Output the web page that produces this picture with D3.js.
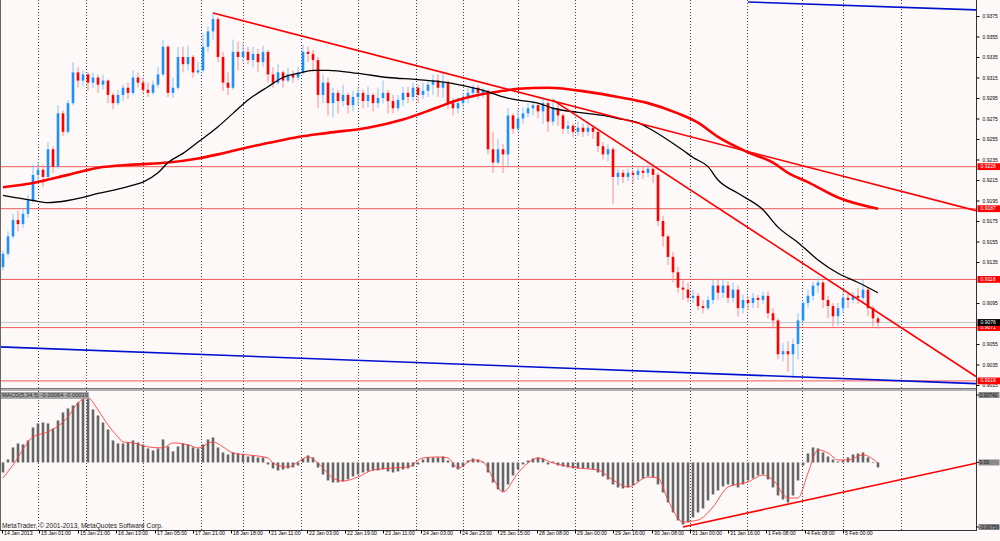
<!DOCTYPE html>
<html><head><meta charset="utf-8">
<script src="https://cdn.jsdelivr.net/npm/d3@7"></script>
<style>html,body{margin:0;padding:0;background:#fdf9f8;}svg{display:block;}</style>
</head><body><svg id="c" width="1000" height="541"></svg>
<script>
// ---------- DATA ----------
const opens = [
0.9130,0.9143,0.9160,0.9176,0.9172,0.9182,0.9195,0.9220,0.9225,0.9218,
0.9245,0.9228,0.9280,0.9262,0.9290,0.9320,0.9312,0.9318,0.9310,0.9315,
0.9308,0.9312,0.9298,0.9290,0.9298,0.9305,0.9300,0.9315,0.9310,0.9303,
0.9300,0.9308,0.9318,0.9345,0.9300,0.9305,0.9335,0.9328,0.9335,0.9320,
0.9322,0.9345,0.9360,0.9372,0.9335,0.9310,0.9305,0.9340,0.9335,0.9340,
0.9332,0.9338,0.9330,0.9340,0.9318,0.9310,0.9320,0.9312,0.9318,0.9315,
0.9320,0.9340,0.9338,0.9332,0.9298,0.9310,0.9290,0.9300,0.9292,0.9298,
0.9288,0.9296,0.9300,0.9292,0.9298,0.9290,0.9295,0.9300,0.9292,0.9285,
0.9293,0.9300,0.9296,0.9305,0.9298,0.9302,0.9308,0.9312,0.9305,0.9310,
0.9290,0.9285,0.9290,0.9296,0.9300,0.9305,0.9300,0.9302,0.9245,0.9232,
0.9245,0.9240,0.9278,0.9265,0.9275,0.9280,0.9285,0.9288,0.9282,0.9290,
0.9272,0.9285,0.9278,0.9265,0.9268,0.9262,0.9266,0.9262,0.9266,0.9262,
0.9248,0.9240,0.9245,0.9218,0.9222,0.9218,0.9222,0.9220,0.9224,0.9222,
0.9226,0.9220,0.9175,0.9160,0.9140,0.9125,0.9110,0.9108,0.9100,0.9102,
0.9092,0.9090,0.9098,0.9112,0.9105,0.9112,0.9100,0.9108,0.9090,0.9098,
0.9095,0.9100,0.9098,0.9102,0.9085,0.9078,0.9045,0.9048,0.9045,0.9055,
0.9078,0.9095,0.9102,0.9112,0.9115,0.9098,0.9092,0.9082,0.9090,0.9100,
0.9098,0.9102,0.9100,0.9108,0.9090,0.9080];
const highs = [
0.9146,0.9165,0.9182,0.9185,0.9187,0.9200,0.9230,0.9232,0.9230,0.9252,
0.9248,0.9288,0.9283,0.9293,0.9330,0.9325,0.9322,0.9320,0.9320,0.9318,
0.9318,0.9313,0.9300,0.9303,0.9308,0.9310,0.9322,0.9320,0.9315,0.9310,
0.9312,0.9325,0.9352,0.9347,0.9315,0.9345,0.9345,0.9346,0.9337,0.9330,
0.9358,0.9365,0.9378,0.9374,0.9340,0.9320,0.9352,0.9350,0.9348,0.9345,
0.9345,0.9343,0.9346,0.9342,0.9325,0.9328,0.9322,0.9325,0.9322,0.9325,
0.9347,0.9345,0.9342,0.9335,0.9318,0.9315,0.9305,0.9303,0.9308,0.9300,
0.9302,0.9305,0.9303,0.9306,0.9300,0.9305,0.9312,0.9303,0.9298,0.9298,
0.9306,0.9306,0.9310,0.9308,0.9310,0.9312,0.9318,0.9318,0.9320,0.9312,
0.9295,0.9296,0.9300,0.9305,0.9308,0.9308,0.9305,0.9303,0.9262,0.9255,
0.9250,0.9285,0.9280,0.9285,0.9286,0.9290,0.9292,0.9290,0.9296,0.9292,
0.9295,0.9290,0.9280,0.9273,0.9270,0.9272,0.9270,0.9272,0.9268,0.9265,
0.9252,0.9250,0.9247,0.9226,0.9225,0.9226,0.9225,0.9228,0.9228,0.9230,
0.9228,0.9222,0.9180,0.9162,0.9145,0.9130,0.9118,0.9115,0.9108,0.9105,
0.9098,0.9102,0.9118,0.9118,0.9118,0.9116,0.9115,0.9112,0.9103,0.9102,
0.9105,0.9103,0.9106,0.9106,0.9090,0.9080,0.9056,0.9058,0.9060,0.9085,
0.9098,0.9108,0.9116,0.9120,0.9117,0.9102,0.9095,0.9095,0.9105,0.9104,
0.9106,0.9110,0.9118,0.9110,0.9092,0.9082];
const lows = [
0.9127,0.9140,0.9158,0.9165,0.9168,0.9178,0.9193,0.9212,0.9208,0.9215,
0.9222,0.9226,0.9258,0.9260,0.9288,0.9305,0.9306,0.9302,0.9305,0.9300,
0.9303,0.9290,0.9284,0.9288,0.9292,0.9294,0.9298,0.9305,0.9300,0.9296,
0.9298,0.9305,0.9316,0.9296,0.9295,0.9303,0.9320,0.9322,0.9315,0.9318,
0.9320,0.9340,0.9352,0.9330,0.9302,0.9298,0.9303,0.9322,0.9330,0.9328,
0.9325,0.9320,0.9325,0.9310,0.9305,0.9308,0.9305,0.9310,0.9310,0.9312,
0.9318,0.9330,0.9320,0.9285,0.9290,0.9278,0.9276,0.9280,0.9287,0.9280,
0.9282,0.9288,0.9285,0.9286,0.9282,0.9285,0.9290,0.9280,0.9280,0.9282,
0.9287,0.9290,0.9292,0.9290,0.9294,0.9296,0.9298,0.9296,0.9295,0.9284,
0.9278,0.9280,0.9286,0.9290,0.9295,0.9294,0.9295,0.9240,0.9222,0.9230,
0.9222,0.9228,0.9260,0.9262,0.9270,0.9276,0.9278,0.9275,0.9270,0.9262,
0.9268,0.9268,0.9260,0.9260,0.9257,0.9258,0.9257,0.9258,0.9255,0.9242,
0.9235,0.9233,0.9192,0.9210,0.9212,0.9214,0.9212,0.9215,0.9216,0.9218,
0.9212,0.9170,0.9150,0.9132,0.9115,0.9105,0.9098,0.9096,0.9095,0.9088,
0.9085,0.9088,0.9094,0.9098,0.9100,0.9095,0.9096,0.9082,0.9085,0.9088,
0.9090,0.9090,0.9094,0.9080,0.9070,0.9040,0.9038,0.9028,0.9022,0.9040,
0.9075,0.9090,0.9098,0.9105,0.9090,0.9080,0.9072,0.9073,0.9085,0.9090,
0.9095,0.9094,0.9095,0.9082,0.9072,0.9070];
const closes = [
0.9143,0.9160,0.9176,0.9172,0.9182,0.9195,0.9220,0.9225,0.9218,0.9245,
0.9228,0.9280,0.9262,0.9290,0.9320,0.9312,0.9318,0.9310,0.9315,0.9308,
0.9312,0.9298,0.9290,0.9298,0.9305,0.9300,0.9315,0.9310,0.9303,0.9300,
0.9308,0.9318,0.9345,0.9300,0.9305,0.9335,0.9328,0.9335,0.9320,0.9322,
0.9345,0.9360,0.9372,0.9335,0.9310,0.9305,0.9340,0.9335,0.9340,0.9332,
0.9338,0.9330,0.9340,0.9318,0.9310,0.9320,0.9312,0.9318,0.9315,0.9320,
0.9340,0.9338,0.9332,0.9298,0.9310,0.9290,0.9300,0.9292,0.9298,0.9288,
0.9296,0.9300,0.9292,0.9298,0.9290,0.9295,0.9300,0.9292,0.9285,0.9293,
0.9300,0.9296,0.9305,0.9298,0.9302,0.9308,0.9312,0.9305,0.9310,0.9290,
0.9285,0.9290,0.9296,0.9300,0.9305,0.9300,0.9302,0.9245,0.9232,0.9245,
0.9240,0.9278,0.9265,0.9275,0.9280,0.9285,0.9288,0.9282,0.9290,0.9272,
0.9285,0.9278,0.9265,0.9268,0.9262,0.9266,0.9262,0.9266,0.9262,0.9248,
0.9240,0.9245,0.9218,0.9222,0.9218,0.9222,0.9220,0.9224,0.9222,0.9226,
0.9220,0.9175,0.9160,0.9140,0.9125,0.9110,0.9108,0.9100,0.9102,0.9092,
0.9090,0.9098,0.9112,0.9105,0.9112,0.9100,0.9108,0.9090,0.9098,0.9095,
0.9100,0.9098,0.9102,0.9085,0.9078,0.9045,0.9048,0.9045,0.9055,0.9078,
0.9095,0.9102,0.9112,0.9115,0.9098,0.9092,0.9082,0.9090,0.9100,0.9098,
0.9102,0.9100,0.9108,0.9090,0.9080,0.9076];

// moving averages (bar index, price)
const maBlackIdx = [0,6,9,13,16,19,23,26,28,31,33,36,39,43,46,49,53,56,59,62,65,71,77,83,89,93,97,100,103,107,110,115,120,123,127,129,136,138,141,143,147,152,155,159,163,167,171,175];
const maBlackVal = [0.9200,0.9195,0.9193,0.9195,0.9198,0.9202,0.9206,0.9210,0.9213,0.9222,0.9232,0.9241,0.9252,0.9267,0.9280,0.9293,0.9306,0.9315,0.9319,0.9322,0.9322,0.9319,0.9315,0.9313,0.9310,0.9306,0.9301,0.9296,0.9293,0.9290,0.9285,0.9281,0.9278,0.9275,0.9271,0.9266,0.9244,0.9237,0.9228,0.9215,0.9202,0.9186,0.9169,0.9154,0.9137,0.9124,0.9115,0.9105];
const maRedIdx = [0,6,13,19,26,33,39,43,49,53,59,65,73,80,87,91,95,100,103,109,117,123,129,135,139,143,149,154,157,161,167,175];
const maRedVal = [0.9208,0.9212,0.9220,0.9227,0.9230,0.9232,0.9236,0.9240,0.9247,0.9251,0.9257,0.9261,0.9266,0.9274,0.9286,0.9293,0.9298,0.9302,0.9304,0.9305,0.9301,0.9296,0.9290,0.9280,0.9271,0.9257,0.9242,0.9232,0.9222,0.9213,0.9198,0.9187];

// horizontal levels and bid
const levelPrices = [0.9228, 0.9187, 0.9118, 0.9071, 0.9019];
const bidPrice = 0.9076;
// trend lines: [index1, price1, index2, price2]
const redTrend1 = [42, 0.9378, 129, 0.9268];
const redTrend2 = [110, 0.9293, 163, 0.9124];
const blueTrendTop = [149, 0.93887, 175, 0.93843];
const blueTrendBottom = [0, 0.90521, 80, 0.90374];

// MACD(5,34,5)
const macdHist = [
-0.00110,0.00033,0.00165,0.00209,0.00198,0.00242,0.00385,0.00429,0.00440,0.00429,
0.00374,0.00462,0.00550,0.00594,0.00627,0.00660,0.00704,0.00726,0.00583,0.00517,
0.00440,0.00363,0.00242,0.00209,0.00209,0.00220,0.00242,0.00220,0.00198,0.00154,
0.00132,0.00154,0.00253,0.00176,0.00121,0.00176,0.00209,0.00198,0.00165,0.00154,
0.00198,0.00253,0.00275,0.00165,0.00110,0.00088,0.00110,0.00099,0.00088,0.00066,
0.00077,0.00055,0.00055,-0.00022,-0.00066,-0.00088,-0.00077,-0.00066,-0.00055,-0.00033,
0.00044,0.00077,0.00055,-0.00055,-0.00132,-0.00198,-0.00220,-0.00220,-0.00209,-0.00187,
-0.00154,-0.00132,-0.00110,-0.00099,-0.00088,-0.00088,-0.00077,-0.00099,-0.00110,-0.00099,
-0.00077,-0.00066,-0.00044,-0.00022,0.00033,0.00055,0.00055,0.00055,0.00066,0.00022,
-0.00055,-0.00077,-0.00044,0.00022,0.00044,0.00033,0.00005,-0.00110,-0.00220,-0.00297,
-0.00319,-0.00242,-0.00143,-0.00077,-0.00022,0.00022,0.00044,0.00055,0.00044,-0.00022,
0.00011,-0.00033,-0.00044,-0.00055,-0.00066,-0.00066,-0.00066,-0.00066,-0.00077,-0.00110,
-0.00154,-0.00187,-0.00242,-0.00275,-0.00286,-0.00275,-0.00253,-0.00209,-0.00176,-0.00154,
-0.00165,-0.00242,-0.00330,-0.00440,-0.00550,-0.00638,-0.00682,-0.00660,-0.00605,-0.00550,
-0.00506,-0.00418,-0.00352,-0.00308,-0.00264,-0.00242,-0.00253,-0.00275,-0.00242,-0.00198,
-0.00176,-0.00143,-0.00132,-0.00187,-0.00275,-0.00363,-0.00407,-0.00440,-0.00363,-0.00198,
-0.00033,0.00099,0.00165,0.00154,0.00110,0.00066,0.00033,0.00011,0.00022,0.00055,
0.00088,0.00099,0.00110,0.00055,-0.00005,-0.00055];
const signalIdx = [0,2,6,9,13,15,17,19,21,23,24,26,29,32,34,37,39,42,44,46,49,53,54,57,59,61,63,66,68,71,74,78,81,84,87,89,91,94,96,98,100,103,105,107,110,115,119,122,125,129,131,133,136,139,142,145,149,152,154,157,159,161,163,165,167,169,172,175];
const signalVal = [-0.00171,-0.00028,0.00281,0.00336,0.00501,0.00655,0.00710,0.00578,0.00413,0.00281,0.00226,0.00215,0.00171,0.00160,0.00215,0.00193,0.00160,0.00226,0.00171,0.00105,0.00083,0.00050,-0.00006,-0.00050,0.00006,0.00061,-0.00006,-0.00171,-0.00204,-0.00160,-0.00083,-0.00061,-0.00050,0.00050,0.00061,0.00050,-0.00061,0.00028,0.00006,-0.00171,-0.00325,-0.00116,-0.00006,0.00050,-0.00006,-0.00061,-0.00083,-0.00193,-0.00270,-0.00160,-0.00171,-0.00413,-0.00655,-0.00633,-0.00490,-0.00270,-0.00215,-0.00138,-0.00193,-0.00391,-0.00391,-0.00116,0.00138,0.00105,0.00028,0.00028,0.00083,-0.00006];
const macdTrend = [136, -0.00710, 175, -0.00243];
const macdAxisVals = [0.00742, 0, -0.00710];
const macdAxisLabels = ['0.00742', '0.00', '-0.00759'];
const macdName = 'MACD(5,34,5) -0.00064 -0.00019';

// axes (labels hidden under the price tags in the reference are left out)
const priceTicks = [0.9375,0.9355,0.9335,0.9315,0.9295,0.9275,0.9255,0.9235,0.9215,0.9195,0.9175,0.9155,0.9135,0.9095,0.9055,0.9035,0.9015];
const timeLabels = ['14 Jan 2013','15 Jan 01:00','15 Jan 21:00','16 Jan 13:00','17 Jan 05:00','17 Jan 21:00','18 Jan 18:00','21 Jan 11:00','22 Jan 03:00','22 Jan 19:00','23 Jan 11:00','24 Jan 03:00','24 Jan 23:00','25 Jan 15:00','28 Jan 08:00','29 Jan 00:00','29 Jan 16:00','30 Jan 08:00','31 Jan 00:00','31 Jan 16:00','1 Feb 08:00','4 Feb 08:00','5 Feb 00:00'];
const timeLabelIdx = [-0.2,7.2,15,22.6,30.4,38,45.6,53.2,60.8,68.4,76,83.6,91.4,99,106.8,114.4,122,129.8,137.4,145,152.6,160.4,168];
const gridIdx = [7,16.6,28,39.6,48,59.6,71,82.6,92,103,114.4,125.8,137.4,148.8,159.8,168,179.6];
const copyright = 'MetaTrader, \u00A9 2001-2013, MetaQuotes Software Corp.';

// ---------- DRAWING ----------
const svg = d3.select('#c');
const axisX = 976, mainBot = 389, subTop = 391, subBot = 530;
const FONT = '"Liberation Sans", Arial, sans-serif';
const x = d3.scaleLinear().domain([0, 175]).range([3, 878]);
const y = d3.scaleLinear().domain([0.9375, 0.9015]).range([16, 385]);
const yM = d3.scaleLinear().domain([0.00742, -0.00710]).range([395, 527]);

svg.append('rect').attr('width', 1000).attr('height', 541).attr('fill', '#fdf9f8');
const defs = svg.append('defs');
defs.append('clipPath').attr('id', 'cm').append('rect').attr('x', 0).attr('y', 0).attr('width', axisX).attr('height', mainBot);
defs.append('clipPath').attr('id', 'cs').append('rect').attr('x', 0).attr('y', subTop).attr('width', axisX).attr('height', subBot - subTop);

// grid
const grid = svg.append('g').attr('stroke', '#444').attr('stroke-dasharray', '1,2').attr('stroke-width', 1);
gridIdx.forEach(g => {
  const gx = Math.round(x(g)) + 0.5;
  grid.append('line').attr('x1', gx).attr('x2', gx).attr('y1', 0).attr('y2', mainBot);
  grid.append('line').attr('x1', gx).attr('x2', gx).attr('y1', subTop).attr('y2', subBot);
});

const main = svg.append('g').attr('clip-path', 'url(#cm)');

// horizontal levels
main.append('line').attr('x1', 0).attr('x2', axisX).attr('y1', y(bidPrice)).attr('y2', y(bidPrice)).attr('stroke', '#c8c8c8').attr('stroke-width', 1);
levelPrices.forEach(p => {
  main.append('line').attr('x1', 0).attr('x2', axisX).attr('y1', y(p)).attr('y2', y(p)).attr('stroke', '#f05a5a').attr('stroke-width', 1);
});

// candles
const idx = d3.range(closes.length);
main.append('g').selectAll('line').data(idx).join('line')
  .attr('x1', i => x(i)).attr('x2', i => x(i))
  .attr('y1', i => y(highs[i])).attr('y2', i => y(lows[i]))
  .attr('stroke', i => closes[i] >= opens[i] ? '#86c3ff' : '#ff8a8a').attr('stroke-width', 1);
main.append('g').selectAll('rect').data(idx).join('rect')
  .attr('x', i => x(i) - 1.3).attr('width', 2.6)
  .attr('y', i => y(Math.max(opens[i], closes[i])))
  .attr('height', i => Math.max(1, Math.abs(y(opens[i]) - y(closes[i]))))
  .attr('fill', i => closes[i] >= opens[i] ? '#1e90ff' : '#ff0000');

// moving averages
const lineGen = (ix, vals, sy) => d3.line().curve(d3.curveMonotoneX)(ix.map((d, k) => [x(d), sy(vals[k])]));
main.append('path').attr('d', lineGen(maRedIdx, maRedVal, y)).attr('fill', 'none').attr('stroke', '#ff0000').attr('stroke-width', 2.6);
main.append('path').attr('d', lineGen(maBlackIdx, maBlackVal, y)).attr('fill', 'none').attr('stroke', '#000').attr('stroke-width', 1.3);

// trend lines (rays to the right edge)
function ray(t, sy, extendLeft) {
  const xa = x(t[0]), ya = sy(t[1]), xb = x(t[2]), yb = sy(t[3]);
  const m = (yb - ya) / (xb - xa);
  const xs = extendLeft ? 0 : xa;
  return [xs, ya + m * (xs - xa), axisX, ya + m * (axisX - xa)];
}
function drawRay(g, t, sy, color, w, extendLeft) {
  const r = ray(t, sy, extendLeft);
  g.append('line').attr('x1', r[0]).attr('y1', r[1]).attr('x2', r[2]).attr('y2', r[3]).attr('stroke', color).attr('stroke-width', w);
}
drawRay(main, redTrend1, y, '#ff0000', 1.6, false);
drawRay(main, redTrend2, y, '#ff0000', 1.6, false);
drawRay(main, blueTrendTop, y, '#0010d0', 1.6, false);
drawRay(main, blueTrendBottom, y, '#0010d0', 1.6, true);

// MACD subwindow
const sub = svg.append('g').attr('clip-path', 'url(#cs)');
sub.append('g').selectAll('rect').data(idx).join('rect')
  .attr('x', i => x(i) - 1.3).attr('width', 2.6)
  .attr('y', i => Math.min(yM(0), yM(macdHist[i])))
  .attr('height', i => Math.max(0.6, Math.abs(yM(macdHist[i]) - yM(0))))
  .attr('fill', '#666');
sub.append('path').attr('d', lineGen(signalIdx, signalVal, yM)).attr('fill', 'none').attr('stroke', '#ff4040').attr('stroke-width', 0.9);
drawRay(sub, macdTrend, yM, '#ff0000', 1.6, false);

// frames
svg.append('rect').attr('x', 0).attr('y', 388.5).attr('width', axisX).attr('height', 2.5).attr('fill', '#b0b0b0');
svg.append('line').attr('x1', 0).attr('x2', axisX).attr('y1', 388.5).attr('y2', 388.5).attr('stroke', '#777');
svg.append('line').attr('x1', 0).attr('x2', axisX).attr('y1', subBot + 0.5).attr('y2', subBot + 0.5).attr('stroke', '#333');
svg.append('line').attr('x1', 0.5).attr('x2', 0.5).attr('y1', 0).attr('y2', subBot).attr('stroke', '#666');
svg.append('line').attr('x1', axisX + 0.5).attr('x2', axisX + 0.5).attr('y1', 0).attr('y2', subBot + 1).attr('stroke', '#333');

// MACD name + copyright
svg.append('rect').attr('x', 1).attr('y', 392).attr('width', 88).attr('height', 7).attr('fill', '#a8a8a8');
svg.append('text').attr('x', 2).attr('y', 395.7).attr('font-family', FONT).attr('font-size', 5.8)
  .attr('dominant-baseline', 'middle').attr('fill', '#2a2a2a').text(macdName);
svg.append('text').attr('x', 2).attr('y', 526).attr('font-family', FONT).attr('font-size', 6.6)
  .attr('dominant-baseline', 'middle').attr('fill', '#222').text(copyright);

// price axis
const pAxis = svg.append('g').attr('transform', `translate(${axisX + 0.5},0)`)
  .call(d3.axisRight(y).tickValues(priceTicks).tickSize(3).tickPadding(3).tickFormat(d3.format('.4f')));
pAxis.select('.domain').remove();
pAxis.selectAll('text').attr('font-family', FONT).attr('font-size', 5).attr('fill', '#000');
pAxis.selectAll('line').attr('stroke', '#000');

function tagBox(py, label, fill, color) {
  svg.append('rect').attr('x', axisX + 1.5).attr('y', py - 3.4).attr('width', 23).attr('height', 6.8).attr('fill', fill);
  svg.append('text').attr('x', axisX + 4.5).attr('y', py + 0.2).attr('font-family', FONT).attr('font-size', 5)
    .attr('dominant-baseline', 'middle').attr('fill', color).text(label);
}
levelPrices.forEach(p => tagBox(y(p), d3.format('.4f')(p), '#ff0000', '#fff'));
tagBox(y(bidPrice), d3.format('.4f')(bidPrice), '#000', '#fff');

// MACD axis labels
macdAxisVals.forEach((v, k) => {
  let py = yM(v);
  svg.append('line').attr('x1', axisX).attr('x2', axisX + 3).attr('y1', py).attr('y2', py).attr('stroke', '#000');
  svg.append('rect').attr('x', axisX + 2.5).attr('y', py - 3).attr('width', 21).attr('height', 6).attr('fill', '#8a8a8a');
  svg.append('text').attr('x', axisX + 3.5).attr('y', py + 0.2).attr('font-family', FONT).attr('font-size', 5)
    .attr('dominant-baseline', 'middle').attr('fill', '#111').text(macdAxisLabels[k]);
});

// time axis
const tAxis = svg.append('g').attr('transform', `translate(0,${subBot + 0.5})`)
  .call(d3.axisBottom(x).tickValues(timeLabelIdx).tickSize(3).tickPadding(1).tickFormat((d, k) => timeLabels[k]));
tAxis.select('.domain').remove();
tAxis.selectAll('line').attr('stroke', '#000');
tAxis.selectAll('text').attr('font-family', FONT).attr('font-size', 5.2).attr('fill', '#000')
  .attr('text-anchor', 'start').attr('dx', 1.5).attr('dy', '0.1em');
</script></body></html>
